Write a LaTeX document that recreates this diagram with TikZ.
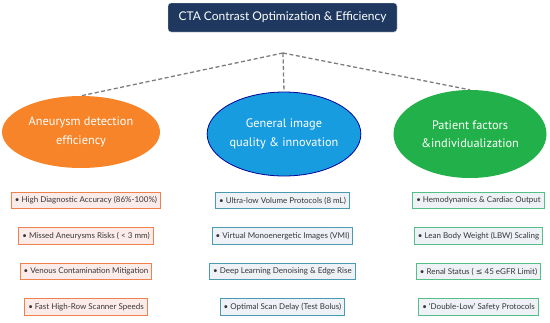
\documentclass[tikz,border=0pt]{standalone}
\usepackage{fontspec}
\setmainfont{Lato}
\newfontfamily\ellfont{PT Sans}
\newfontfamily\symfont{DejaVu Sans}
\usetikzlibrary{shapes.geometric}
\definecolor{navy}{RGB}{30,56,96}
\definecolor{dashgrey}{RGB}{125,125,125}
\definecolor{textgrey}{RGB}{55,55,55}
\definecolor{topicorange}{RGB}{247,132,40}
\definecolor{topicblue}{RGB}{24,156,224}
\definecolor{topicgreen}{RGB}{34,176,74}
\definecolor{edgeorange}{RGB}{240,128,76}
\definecolor{edgeteal}{RGB}{74,154,178}
\definecolor{edgegreen}{RGB}{84,192,136}
\definecolor{fillpink}{RGB}{252,236,233}
\definecolor{fillgrey}{RGB}{238,241,246}

\begin{document}
\begin{tikzpicture}[
    x=1pt, y=-1pt,
    header/.style={rectangle, draw=black!15, fill=navy, rounded corners=3pt, minimum width=229pt, minimum height=29pt, text=white, font=\fontsize{12}{14}\selectfont},
    topic/.style={ellipse, inner sep=0pt, align=center, text=white, font=\ellfont\fontsize{12.3}{18.5}\selectfont},
    item/.style={rectangle, line width=1pt, inner xsep=3.5pt, inner ysep=0pt, minimum height=16.5pt, text=textgrey, font=\fontsize{8}{9}\selectfont},
    aneu/.style={item, draw=edgeorange, fill=fillpink},
    imgq/.style={item, draw=edgeteal, fill=fillgrey},
    pat/.style={item, draw=edgegreen, fill=fillgrey},
    link/.style={dash pattern=on 4pt off 2.5pt, line width=1.3pt, draw=dashgrey}
]
\useasboundingbox (0,0) rectangle (550,322);

% ============ header ============
\node[header] (head) at (282.5,17.5) {CTA Contrast Optimization \& Efficiency};
\coordinate (hub) at (283,53);

% ============ topics ============
\node[topic, fill=topicorange, minimum width=158pt, minimum height=72pt] (aneurysm) at (81,132) {Aneurysm detection\\efficiency};
\node[topic, fill=topicblue, draw=blue!60!black, line width=0.8pt, minimum width=153pt, minimum height=84pt] (image) at (284,134) {General image\\quality \& innovation};
\node[topic, fill=topicgreen, minimum width=153pt, minimum height=88pt] (patient) at (470,134) {Patient factors\\\&individualization};

\draw[link] (hub) -- (aneurysm.north);
\draw[link] (hub) -- (image.north);
\draw[link] (hub) -- (patient.north);

% ============ aneurysm items ============
\node[aneu] (a1) at (86,200.5) {• High Diagnostic Accuracy (86\%-100\%)};
\node[aneu] (a2) at (86,236) {• Missed Aneurysms Risks ( < 3 mm)};
\node[aneu] (a3) at (86,271.5) {• Venous Contamination Mitigation};
\node[aneu] (a4) at (86,307) {• Fast High-Row Scanner Speeds};

% ============ image quality items ============
\node[imgq] (b1) at (282.5,200.5) {• Ultra-low Volume Protocols (8 mL)};
\node[imgq] (b2) at (282.5,236) {• Virtual Monoenergetic Images (VMI)};
\node[imgq] (b3) at (282.5,271.5) {• Deep Learning Denoising \& Edge Rise};
\node[imgq] (b4) at (282.5,307) {• Optimal Scan Delay (Test Bolus)};

% ============ patient items ============
\node[pat] (c1) at (478.5,200.5) {• Hemodynamics \& Cardiac Output};
\node[pat] (c2) at (478.5,236) {• Lean Body Weight (LBW) Scaling};
\node[pat] (c3) at (478.5,271.5) {• Renal Status ( {\symfont ≤} 45 eGFR Limit)};
\node[pat] (c4) at (478.5,307) {• `Double-Low' Safety Protocols};

\end{tikzpicture}
\end{document}
